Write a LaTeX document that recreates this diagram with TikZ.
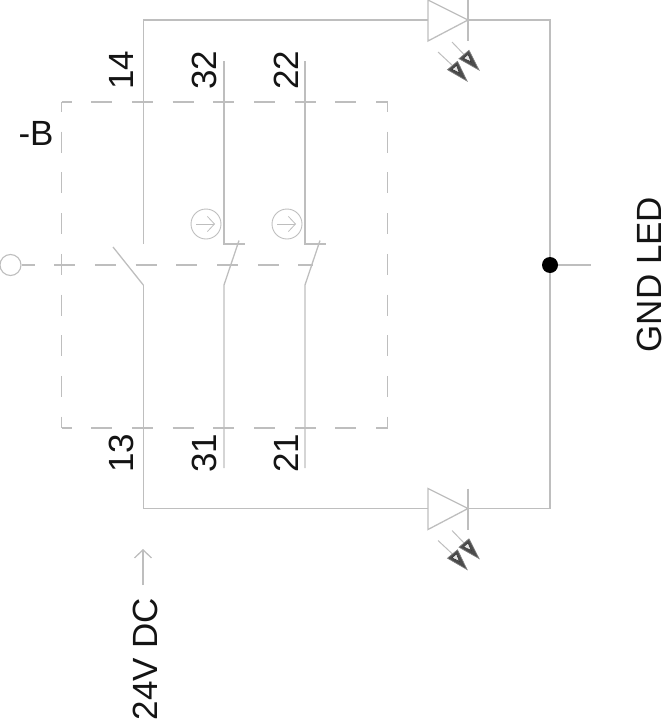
\documentclass[tikz,border=0pt]{standalone}
\usepackage{fontspec}
\setmainfont{Liberation Sans}
\usetikzlibrary{calc,arrows.meta}
\definecolor{wire}{HTML}{BEBEBE}
\definecolor{ink}{HTML}{141414}
\tikzset{
  x=1pt,y=-1pt,
  wireline/.style={draw=wire,line width=1.3pt,line join=miter},
  thinline/.style={draw=wire,line width=1pt,line join=miter},
  dashline/.style={draw=wire,line width=1.1pt,dash pattern=on 21pt off 19.7pt,dash phase=11pt},
  lab/.style={text=ink,font=\fontsize{35}{35}\selectfont,inner sep=0pt,anchor=center},
  vlab/.style={lab,rotate=90},
  headdark/.style={fill=black!70,draw=black!50,line width=.7pt},
  headlight/.style={fill=black!10,draw=black!80,line width=.6pt},
}
% start x,y ; tip dx,dy from the base middle ; base middle x,y
\newcommand{\ledarrow}[6]{%
  \draw[thinline] (#1,#2) -- (#5,#6);
  \begin{scope}[shift={(#5,#6)}]
    \coordinate (d) at (#3,#4);
    \path[headdark] (d) -- (-5,4.2) -- (5,-4.2) -- cycle;
    \path[headlight] ($.48*(d)$) -- ($.12*(d)+(-2.3,2)$) -- ($.12*(d)+(2.3,-2)$) -- cycle;
  \end{scope}
}
\begin{document}
\begin{tikzpicture}
\useasboundingbox (0,0) rectangle (664,720);
% corners and terminals
\coordinate (tl) at (143.3,20);
\coordinate (tr) at (550,20);
\coordinate (bl) at (143.3,508.5);
\coordinate (br) at (550,508.5);
\coordinate (a1) at (428,20);
\coordinate (k1) at (468,20);
\coordinate (a2) at (428,508.5);
\coordinate (k2) at (468,508.5);
\coordinate (gnd) at (591,265);
\coordinate (bxa) at (61.5,102);
\coordinate (bxb) at (387.6,102);
\coordinate (bxc) at (387.6,428);
\coordinate (bxd) at (61.5,428);
% dashed enclosure
\draw[dashline] (bxa) -- (bxb);
\draw[dashline] (bxb) -- (bxc);
\draw[dashline] (bxd) -- (bxc);
\draw[dashline] (bxa) -- (bxd);
% actuator
\node[circle,draw=wire,line width=1.1pt,inner sep=0pt,minimum size=21pt] (act) at (10.5,265) {};
\coordinate (actend) at (312.5,265);
\draw[dashline,dash phase=8pt] (act.east) -- (actend);
% wiring
\draw[wireline] (143.3,244) -- (tl) -- (a1);
\draw[wireline] (k1) -- (tr) -- (br) -- (k2);
\draw[wireline] (a2) -- (bl) -- (143.3,285);
\draw[wireline] (550,265) -- (gnd);
\node[circle,fill=black,inner sep=0pt,minimum size=16pt] (dot) at (550,265) {};
% NO contact
\draw[wireline] (113,247) -- (143.3,285);
% NC contacts
\foreach \x in {224,305}{
  \draw[wireline] (\x,61) -- (\x,244) -- (\x+21,244);
  \draw[wireline] (\x+15,240.5) -- (\x,285) -- (\x,468);
  \draw[draw=wire,line width=.9pt] (\x-18,224) circle (15);
  \draw[draw=wire,line width=.8pt,-{Straight Barb[length=7pt,width=15pt]}] (\x-28,224) -- (\x-9,224);
}
% LEDs
\foreach \y in {0,488.5}{
  \draw[wireline] (428,\y) -- (468,\y+20) -- (428,\y+41) -- cycle;
  \draw[wireline] (468,\y) -- (468,\y+41);
  \ledarrow{438}{\y+52}{14.5}{15.5}{452.5}{\y+65.5}
  \ledarrow{452}{\y+42}{15}{15.5}{464}{\y+54.5}
}
% supply arrow
\coordinate (sup1) at (143,585);
\coordinate (sup2) at (143,549);
\draw[wireline,-{Straight Barb[length=8pt,width=17pt]}] (sup1) -- (sup2);
% labels
\node[vlab] (l14) at (121,70) {14};
\node[vlab] (l32) at (204,70) {32};
\node[vlab] (l22) at (286,70) {22};
\node[vlab] (l13) at (121,453) {13};
\node[vlab] (l31) at (204,453) {31};
\node[vlab] (l21) at (286,453) {21};
\node[lab] (lb) at (36,133) {-B};
\node[vlab] (lgnd) at (649.5,274.5) {GND LED};
\node[vlab] (l24) at (145,659) {24V DC};
\end{tikzpicture}
\end{document}
